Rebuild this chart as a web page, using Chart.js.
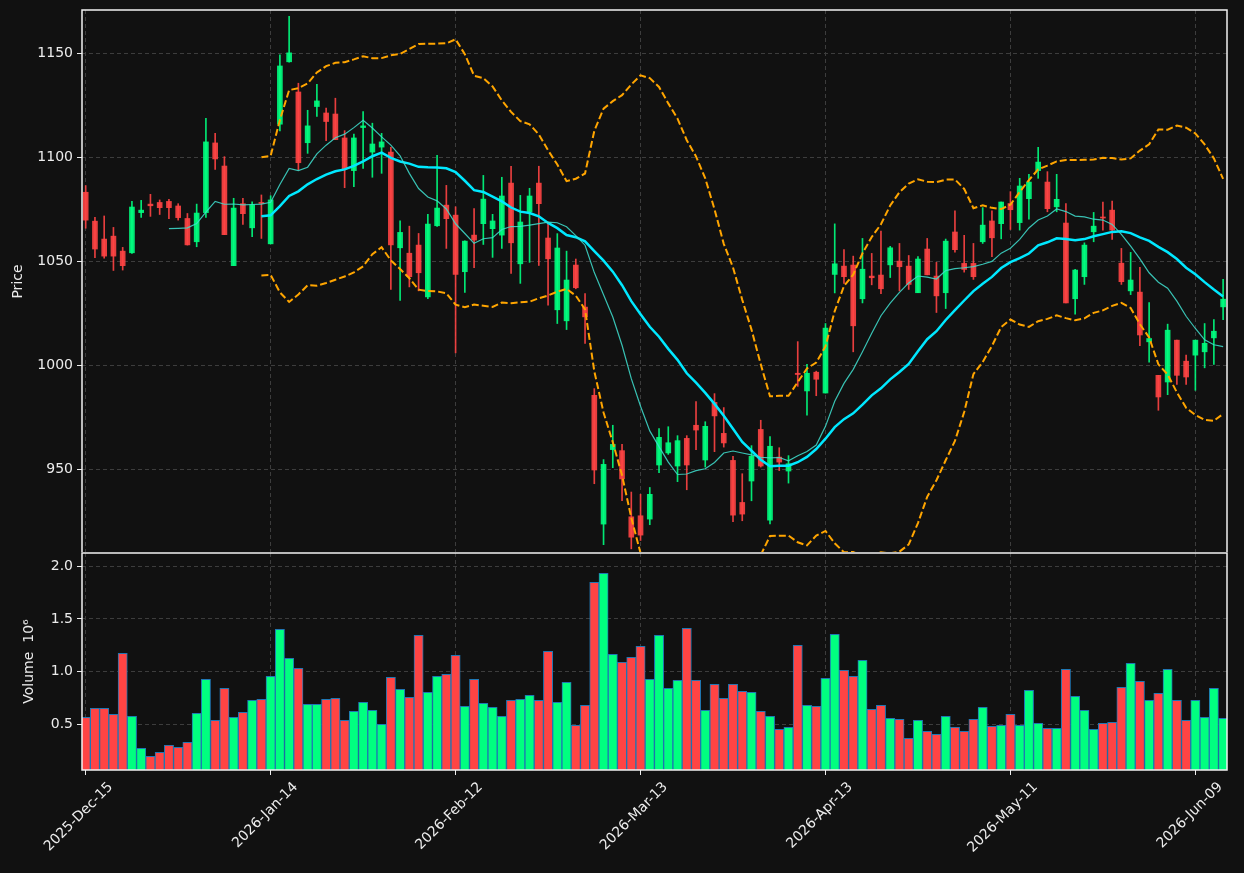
<!DOCTYPE html>
<html>
<head>
<meta charset="utf-8">
<script src="https://cdn.jsdelivr.net/npm/chart.js@4.4.0/dist/chart.umd.min.js"></script>
<style>
html,body{margin:0;padding:0;background:#111111;}
#wrap{position:relative;width:1244px;height:873px;background:#111111;overflow:hidden;}
#top{position:absolute;left:0;top:0;}
#bot{position:absolute;left:0;top:552px;}
</style>
</head>
<body>
<div id="wrap">
<canvas id="top" width="1244" height="554"></canvas>
<canvas id="bot" width="1244" height="321"></canvas>
</div>
<script>
// ---- data ----
const openPrices = [1083.2,1069.3,1060.7,1062.1,1054.9,1054.1,1073.4,1077.5,1078.3,1078.8,
 1076.6,1070.6,1059.4,1073.4,1106.9,1095.8,1047.9,1077.7,1066.1,1078.3,
 1058.4,1115.9,1145.9,1131.4,1107.0,1124.4,1121.3,1120.8,1109.3,1093.6,
 1114.3,1102.5,1104.9,1102.5,1056.5,1053.9,1057.8,1032.9,1067.1,1077.0,
 1072.2,1045.0,1062.6,1068.1,1065.7,1062.6,1087.6,1048.8,1073.8,1087.6,
 1061.2,1026.7,1021.4,1048.2,1028.0,985.6,923.7,959.5,959.0,927.2,
 927.7,926.1,952.1,957.9,951.6,964.9,971.2,954.5,982.2,967.3,
 954.3,934.1,944.4,969.2,925.6,955.9,949.2,996.2,987.7,996.7,
 986.7,1043.7,1047.7,1048.2,1032.0,1042.9,1043.4,1048.3,1050.1,1047.7,
 1034.9,1055.9,1042.9,1034.9,1064.1,1049.0,1049.0,1059.4,1069.4,1068.1,
 1077.8,1068.6,1080.1,1093.6,1088.1,1076.2,1068.4,1032.0,1042.6,1064.2,
 1071.3,1074.6,1049.1,1035.8,1035.2,1011.3,995.2,992.0,1012.1,1002.0,
 1004.9,1006.5,1013.2,1028.1];
const highPrices = [1086.4,1071.1,1071.8,1066.3,1056.7,1078.8,1079.3,1082.2,1079.5,1079.8,
 1077.7,1073.0,1077.5,1118.7,1111.5,1100.3,1080.3,1080.3,1078.6,1081.9,
 1081.5,1149.2,1167.7,1135.6,1122.6,1135.1,1123.7,1128.4,1112.8,1111.1,
 1122.0,1116.4,1111.5,1104.8,1069.5,1066.9,1063.4,1072.6,1100.9,1086.5,
 1076.2,1059.9,1075.4,1091.3,1072.6,1090.4,1095.7,1081.7,1085.1,1095.7,
 1068.2,1063.3,1054.9,1051.1,1034.5,988.8,954.7,971.2,962.0,939.1,
 938.0,941.3,969.6,970.5,966.2,966.2,982.6,972.9,986.4,979.7,
 956.3,947.9,961.4,973.6,965.7,960.4,956.6,1011.4,1000.5,997.2,
 1020.1,1068.0,1055.7,1052.5,1061.0,1053.8,1064.5,1057.2,1058.6,1052.8,
 1052.3,1061.0,1049.5,1060.7,1074.3,1062.5,1058.6,1075.8,1074.3,1078.5,
 1083.5,1089.9,1091.8,1104.8,1093.1,1091.8,1077.8,1046.1,1058.9,1073.5,
 1078.5,1079.0,1056.2,1054.3,1047.1,1030.2,995.2,1019.8,1012.1,1004.9,
 1012.1,1020.1,1022.0,1041.3];
const lowPrices = [1065.9,1051.7,1051.5,1045.6,1045.8,1053.8,1071.1,1071.6,1072.5,1070.5,
 1069.8,1057.8,1057.0,1071.1,1094.2,1062.8,1047.9,1067.7,1061.8,1061.0,
 1058.4,1112.7,1145.7,1093.9,1101.9,1119.7,1108.0,1108.5,1085.4,1085.9,
 1094.7,1090.4,1092.3,1036.5,1031.2,1037.7,1035.8,1032.1,1066.8,1056.2,
 1006.0,1035.0,1046.9,1058.1,1051.9,1056.2,1044.2,1039.4,1049.5,1048.0,
 1028.9,1020.1,1017.2,1036.8,1010.5,943.1,913.8,950.8,934.9,911.8,
 915.8,923.4,948.4,957.2,944.1,940.2,959.5,951.1,958.5,960.7,
 924.8,925.3,934.9,951.1,923.8,949.4,943.4,989.9,976.1,985.4,
 986.7,1034.8,1039.4,1006.5,1030.0,1038.7,1034.5,1042.2,1035.8,1036.5,
 1034.9,1043.5,1025.4,1027.3,1054.4,1044.8,1041.3,1058.6,1052.2,1060.8,
 1065.3,1065.0,1070.2,1089.9,1073.8,1073.8,1030.0,1024.6,1038.9,1059.4,
 1065.0,1060.5,1038.9,1034.0,1009.5,1001.5,978.4,985.9,990.8,990.8,
 988.0,998.8,1000.4,1022.0];
const closePrices = [1069.8,1055.9,1052.5,1052.5,1047.9,1076.1,1074.6,1076.7,1075.8,1075.8,
 1071.0,1057.9,1073.2,1107.4,1099.2,1062.8,1075.6,1072.9,1077.2,1077.8,
 1079.5,1143.9,1150.2,1097.4,1115.1,1127.1,1117.2,1108.5,1094.4,1109.3,
 1115.1,1106.4,1107.4,1057.9,1063.9,1042.6,1044.5,1067.9,1075.6,1070.5,
 1043.7,1059.7,1060.2,1079.9,1069.4,1081.4,1058.9,1068.9,1081.4,1077.7,
 1051.2,1056.4,1041.0,1037.3,1023.3,949.7,952.4,962.0,945.4,917.4,
 918.4,938.0,965.4,962.8,963.8,952.1,968.9,970.7,975.7,962.7,
 928.0,928.5,956.3,951.6,961.1,953.5,952.7,995.6,996.2,993.3,
 1017.9,1048.8,1042.6,1019.0,1046.2,1042.1,1036.8,1056.5,1047.4,1038.9,
 1051.1,1043.5,1033.4,1059.7,1055.6,1046.1,1042.6,1067.4,1061.3,1078.5,
 1074.8,1086.2,1088.1,1097.7,1075.3,1079.8,1030.0,1045.8,1057.8,1066.9,
 1070.8,1065.0,1040.2,1041.0,1014.6,1012.9,984.8,1016.9,995.2,994.4,
 1012.1,1010.6,1016.4,1031.8];
const volumeMillions = [0.566,0.652,0.652,0.595,1.174,0.576,0.272,0.196,0.234,0.301,
 0.282,0.329,0.604,0.927,0.538,0.842,0.566,0.614,0.728,0.737,
 0.956,1.402,1.127,1.032,0.690,0.690,0.737,0.747,0.538,0.623,
 0.709,0.633,0.500,0.946,0.832,0.756,1.345,0.804,0.956,0.975,
 1.155,0.671,0.927,0.699,0.661,0.576,0.728,0.737,0.775,0.728,
 1.193,0.709,0.899,0.491,0.680,1.848,1.934,1.165,1.089,1.136,
 1.240,0.927,1.345,0.842,0.918,1.411,0.918,0.633,0.880,0.747,
 0.880,0.813,0.804,0.623,0.576,0.453,0.472,1.250,0.680,0.671,
 0.937,1.354,1.013,0.956,1.108,0.642,0.680,0.557,0.548,0.367,
 0.538,0.434,0.405,0.576,0.472,0.434,0.548,0.661,0.481,0.491,
 0.595,0.491,0.823,0.510,0.462,0.462,1.022,0.766,0.633,0.453,
 0.510,0.519,0.851,1.079,0.908,0.728,0.794,1.022,0.728,0.538,
 0.728,0.566,0.842,0.557];
const tickPositions = [0,20,40,60,80,100,120];
const tickLabels = ['2025-Dec-15','2026-Jan-14','2026-Feb-12','2026-Mar-13','2026-Apr-13','2026-May-11','2026-Jun-09'];
const priceTicks = [950,1000,1050,1100,1150];
const volumeTicks = [0.5,1.0,1.5,2.0];

// ---- indicators derived from the closes (moving averages and Bollinger bands) ----
function sma(arr, n){
  return arr.map((v,i)=> i < n-1 ? null : arr.slice(i-n+1,i+1).reduce((a,b)=>a+b,0)/n);
}
function rollingStd(arr, n){
  return arr.map((v,i)=>{
    if (i < n-1) return null;
    const w = arr.slice(i-n+1,i+1);
    const m = w.reduce((a,b)=>a+b,0)/n;
    return Math.sqrt(w.reduce((a,b)=>a+(b-m)*(b-m),0)/n);
  });
}
const ma10 = sma(closePrices,10);
const ma20 = sma(closePrices,20);
const sd20 = rollingStd(closePrices,20);
const bbUpper = ma20.map((m,i)=> m===null ? null : m + 2*sd20[i]);
const bbLower = ma20.map((m,i)=> m===null ? null : m - 2*sd20[i]);

// ---- styling ----
const UP_VOL = '#00ff80', DOWN_VOL = '#ff4444';
const UP_CANDLE = 'rgba(0,255,128,0.9)', DOWN_CANDLE = 'rgba(255,68,68,0.9)';
const TEXT = '#ececec';
const GRID = '#3d3d3d';
const FONT = {family:'DejaVu Sans', size:14};
const X_MIN = -0.40, X_MAX = 123.42;

const isUp = closePrices.map((c,i)=> c >= openPrices[i]);
const candleColors = isUp.map(u => u ? UP_CANDLE : DOWN_CANDLE);
const volColors = isUp.map(u => u ? UP_VOL : DOWN_VOL);
const pts = arr => arr.map((v,i)=>({x:i, y:v}));

const bgPlugin = {id:'bg', beforeDraw(c){const ctx=c.ctx; ctx.save(); ctx.fillStyle='#111111'; ctx.fillRect(0,0,c.width,c.height); ctx.restore();}};
const framePlugin = {id:'frame', afterDraw(c){const a=c.chartArea; const ctx=c.ctx; ctx.save(); ctx.strokeStyle='#f2f2f2'; ctx.lineWidth=1.5; ctx.strokeRect(a.left,a.top,a.right-a.left,a.bottom-a.top); ctx.restore();}};
function fixY(s){ s.width = 82; s.paddingTop = 0; s.paddingBottom = 0; }

Chart.defaults.font.family = 'DejaVu Sans';

new Chart(document.getElementById('top'), {
  type:'bar',
  data:{datasets:[
    {type:'line', label:'MA10', data:pts(ma10), borderColor:'rgba(64,224,208,0.85)', borderWidth:1.2, pointRadius:0, tension:0},
    {type:'line', label:'MA20', data:pts(ma20), borderColor:'#00e8ff', borderWidth:2.5, pointRadius:0, tension:0},
    {type:'line', label:'BB upper', data:pts(bbUpper), borderColor:'#ffa500', borderWidth:2, borderDash:[7,3], pointRadius:0, tension:0},
    {type:'line', label:'BB lower', data:pts(bbLower), borderColor:'#ffa500', borderWidth:2, borderDash:[7,3], pointRadius:0, tension:0},
    {label:'body', data:openPrices.map((o,i)=>({x:i, y:[o, closePrices[i]]})), backgroundColor:candleColors, barThickness:5, grouped:false},
    {label:'wick', data:lowPrices.map((l,i)=>({x:i, y:[l, highPrices[i]]})), backgroundColor:candleColors, barThickness:1, grouped:false}
  ]},
  options:{
    responsive:false, animation:false,
    layout:{padding:{top:10,right:17,bottom:1,left:0}},
    plugins:{legend:{display:false}, tooltip:{enabled:false}},
    scales:{
      x:{type:'linear', min:X_MIN, max:X_MAX, offset:false,
         afterBuildTicks(s){ s.ticks = tickPositions.map(v=>({value:v})); },
         ticks:{display:false},
         grid:{color:GRID, drawTicks:false, offset:false},
         border:{display:false, dash:[4,3]},
         afterFit(s){ s.height = 0; s.paddingLeft = 0; s.paddingRight = 0; }},
      y:{min:909.8, max:1170.8,
         afterBuildTicks(s){ s.ticks = priceTicks.map(v=>({value:v})); },
         ticks:{color:TEXT, font:FONT, padding:4, callback:v=>String(v)},
         grid:{color:GRID, tickColor:TEXT, tickLength:5, tickBorderDash:[]},
         border:{display:false, dash:[4,3]},
         title:{display:true, text:'Price', color:TEXT, font:FONT, padding:{top:10,bottom:0}},
         afterFit: fixY}
    }
  },
  plugins:[bgPlugin, framePlugin]
});

new Chart(document.getElementById('bot'), {
  type:'bar',
  data:{datasets:[
    {label:'Volume', data:pts(volumeMillions), backgroundColor:volColors, borderColor:'#1f77b4', borderWidth:1, barPercentage:1, categoryPercentage:1, grouped:false}
  ]},
  options:{
    responsive:false, animation:false,
    layout:{padding:{top:1,right:17,bottom:0,left:0}},
    plugins:{legend:{display:false}, tooltip:{enabled:false}},
    scales:{
      x:{type:'linear', min:X_MIN, max:X_MAX, offset:false,
         afterBuildTicks(s){ s.ticks = tickPositions.map(v=>({value:v})); },
         ticks:{color:TEXT, font:FONT, autoSkip:false, minRotation:45, maxRotation:45, padding:4, labelOffset:25,
                callback:v=>{const k=tickPositions.indexOf(v); return k<0?'':tickLabels[k];}},
         grid:{color:GRID, tickColor:TEXT, tickLength:5, tickBorderDash:[], offset:false},
         border:{display:false, dash:[4,3]},
         afterFit(s){ s.height = 103; s.paddingLeft = 0; s.paddingRight = 0; }},
      y:{min:0.066, max:2.126,
         afterBuildTicks(s){ s.ticks = volumeTicks.map(v=>({value:v})); },
         ticks:{color:TEXT, font:FONT, padding:4, callback:v=>Number(v).toFixed(1)},
         grid:{color:GRID, tickColor:TEXT, tickLength:5, tickBorderDash:[]},
         border:{display:false, dash:[4,3]},
         title:{display:true, text:'Volume  10\u2076', color:TEXT, font:FONT, padding:{top:21,bottom:0}},
         afterFit: fixY}
    }
  },
  plugins:[bgPlugin, framePlugin]
});
</script>
</body>
</html>
